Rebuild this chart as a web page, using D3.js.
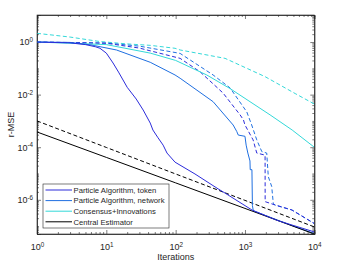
<!DOCTYPE html>
<html>
<head>
<meta charset="utf-8">
<script src="https://cdn.jsdelivr.net/npm/d3@7"></script>
<style>
  body { margin: 0; background: #fff; }
  svg text { font-family: "Liberation Sans", Arial, sans-serif; fill: #262626; }
  .axis path, .axis line { stroke: #262626; stroke-width: 0.6; }
</style>
</head>
<body>
<script>
// data: [iterations, r-MSE]
var tokenSolid = [[1,1.0],[3,0.93],[5,0.8],[7,0.66],[8.1,0.58],[10,0.38],[12.5,0.16],[15,0.072],[20,0.019],
  [27,0.0068],[34,0.0026],[43,0.00083],[47,0.00045],[55,0.00024],[66,0.00012],[75,6e-5],[98,2.7e-5],
  [190,9.6e-6],[410,2.6e-6],[516,1.8e-6],[1260,4.1e-7],[3000,1.6e-7],[10000,6e-8]];
var networkSolid = [[1,1.0],[3,0.97],[6,0.78],[14,0.5],[43,0.17],[98,0.056],[116,0.042],[347,0.0054],
  [675,0.0007],[760,0.0004],[800,0.00029],[1000,0.00026],[1040,0.00012],[1100,6e-5],[1180,3e-5],[1190,1.4e-5],
  [1260,1.4e-5],[1280,6e-7],[1320,3.8e-7],[2000,2.5e-7],[5000,1e-7],[10000,5.2e-8]];
var ciSolid = [[1,1.0],[10,0.8],[43,0.38],[100,0.2],[281,0.056],[610,0.017],[2300,0.0017],[4800,0.00045],[10000,0.0001]];
var centralSolid = [[1,3.8e-4],[10,4.1e-5],[100,4.4e-6],[1000,4.7e-7],[10000,5e-8]];
var tokenDashed = [[1,1.0],[10,0.9],[30,0.59],[116,0.24],[225,0.074],[483,0.0115],[850,0.0017],[950,0.0011],
  [1000,0.0007],[1310,0.00019],[1480,6e-5],[1950,5e-5],[1955,8.5e-7],[2700,6.4e-7],[4750,4.1e-7],[10000,1.25e-7]];
var networkDashed = [[1,1.0],[10,0.92],[30,0.7],[116,0.37],[347,0.056],[610,0.018],[1062,0.0022],[1250,0.0007],
  [1480,0.00019],[1750,6.8e-5],[2060,6e-5],[2170,7.6e-6],[2430,3.2e-6],[2560,7.4e-7],[2700,6.3e-7],[4750,4.1e-7],[10000,1.25e-7]];
var ciDashed = [[1,2.15],[3,1.55],[8,1.05],[20,0.85],[43,0.75],[98,0.58],[116,0.5],[516,0.24],[1960,0.048],[5300,0.011],[10000,0.0044]];
var centralDashed = [[1,1e-3],[10,9.8e-5],[100,9.6e-6],[1000,9.5e-7],[10000,9.3e-8]];

var legendNames = ["Particle Algorithm, token", "Particle Algorithm, network", "Consensus+Innovations", "Central Estimator"];
var xTicks = [1, 10, 100, 1000, 10000];
var yTicks = [1e-6, 1e-4, 1e-2, 1];

var colToken = "#2c2cda", colNet = "#1f6fe0", colCI = "#33d8d8", colCentral = "#000";

var series = [
  {data: ciDashed, color: colCI, dash: "4,2.5"},
  {data: networkDashed, color: colNet, dash: "4,2.5"},
  {data: tokenDashed, color: colToken, dash: "4,2.5"},
  {data: centralDashed, color: colCentral, dash: "4,2.5"},
  {data: ciSolid, color: colCI, dash: null},
  {data: networkSolid, color: colNet, dash: null},
  {data: centralSolid, color: colCentral, dash: null},
  {data: tokenSolid, color: colToken, dash: null}
];

var W = 349, H = 262;
var margin = {top: 15, right: 35, bottom: 28, left: 37};
var x = d3.scaleLog().domain([1, 1e4]).range([margin.left, W - margin.right + 0.3]);
var y = d3.scaleLog().domain([5e-8, 10.7]).range([H - margin.bottom, margin.top]);

var svg = d3.select("body").append("svg").attr("width", W).attr("height", H);

svg.append("defs").append("clipPath").attr("id", "clip")
  .append("rect").attr("x", x(1)).attr("y", y(10.7)).attr("width", x(1e4) - x(1)).attr("height", y(5e-8) - y(10.7));

//minor ticks
var xMinor = [], yMinor = [];
for (var e = 0; e < 4; e++) for (var m = 2; m < 10; m++) xMinor.push(m * Math.pow(10, e));
for (var e = -8; e < 2; e++) for (var m = 1; m < 10; m++) {
  var v = m * Math.pow(10, e);
  if (v >= 5e-8 && v <= 10.7 && !(m == 1 && e % 2 == 0)) yMinor.push(v);
}

function supLabel(sel) {
  sel.selectAll(".tick text").text(null).each(function(d) {
    var t = d3.select(this);
    t.append("tspan").text("10");
    t.append("tspan").attr("dy", "-0.5em").attr("font-size", "6.3px").text(Math.round(Math.log10(d)));
  });
}

var y0 = y(5e-8), y1 = y(10.7), x0 = x(1), x1 = x(1e4);

var gxb = svg.append("g").attr("class", "axis").attr("transform", "translate(0," + y0 + ")")
  .call(d3.axisBottom(x).tickValues(xTicks).tickSize(-4).tickPadding(10));
gxb.selectAll("text").attr("font-size", "9px");
supLabel(gxb);
svg.append("g").attr("class", "axis").attr("transform", "translate(0," + y0 + ")")
  .call(d3.axisBottom(x).tickValues(xMinor).tickSize(-2).tickFormat(""));
svg.append("g").attr("class", "axis").attr("transform", "translate(0," + y1 + ")")
  .call(d3.axisTop(x).tickValues(xTicks).tickSize(-4).tickFormat(""));
svg.append("g").attr("class", "axis").attr("transform", "translate(0," + y1 + ")")
  .call(d3.axisTop(x).tickValues(xMinor).tickSize(-2).tickFormat(""));

var gyl = svg.append("g").attr("class", "axis").attr("transform", "translate(" + x0 + ",0)")
  .call(d3.axisLeft(y).tickValues(yTicks).tickSize(-4).tickPadding(4));
gyl.selectAll("text").attr("font-size", "9px");
supLabel(gyl);
svg.append("g").attr("class", "axis").attr("transform", "translate(" + x0 + ",0)")
  .call(d3.axisLeft(y).tickValues(yMinor).tickSize(-2).tickFormat(""));
svg.append("g").attr("class", "axis").attr("transform", "translate(" + x1 + ",0)")
  .call(d3.axisRight(y).tickValues(yTicks).tickSize(-4).tickFormat(""));
svg.append("g").attr("class", "axis").attr("transform", "translate(" + x1 + ",0)")
  .call(d3.axisRight(y).tickValues(yMinor).tickSize(-2).tickFormat(""));

var line = d3.line().x(function(d) { return x(d[0]); }).y(function(d) { return y(d[1]); });

svg.append("g").attr("clip-path", "url(#clip)")
  .selectAll("path").data(series).enter().append("path")
  .attr("d", function(d) { return line(d.data); })
  .attr("fill", "none")
  .attr("stroke", function(d) { return d.color; })
  .attr("stroke-width", 1)
  .attr("stroke-dasharray", function(d) { return d.dash; });

// box
svg.append("rect").attr("x", x0).attr("y", y1).attr("width", x1 - x0).attr("height", y0 - y1)
  .attr("fill", "none").attr("stroke", "#262626").attr("stroke-width", 0.6);

// axis labels
svg.append("text").attr("x", (x0 + x1) / 2).attr("y", 260).attr("text-anchor", "middle")
  .attr("font-size", "9px").text("Iterations");
svg.append("text").attr("transform", "translate(13.5," + ((y0 + y1) / 2) + ") rotate(-90)")
  .attr("text-anchor", "middle").attr("font-size", "9px").text("r-MSE");

// legend
var legendColors = [colToken, colNet, colCI, colCentral];
var lg = svg.append("g");
lg.append("rect").attr("x", 43).attr("y", 184).attr("width", 126).attr("height", 44)
  .attr("fill", "#fff").attr("stroke", "#262626").attr("stroke-width", 0.6);
var item = lg.selectAll("g.item").data(legendNames).enter().append("g")
  .attr("transform", function(d, i) { return "translate(0," + (190 + i * 10.6) + ")"; });
item.append("line").attr("x1", 45.5).attr("x2", 72).attr("y1", 0).attr("y2", 0)
  .attr("stroke", function(d, i) { return legendColors[i]; }).attr("stroke-width", 1);
item.append("text").attr("x", 73.5).attr("y", 0).attr("dy", "0.35em")
  .attr("font-size", "7.7px").text(function(d) { return d; });
</script>
</body>
</html>
